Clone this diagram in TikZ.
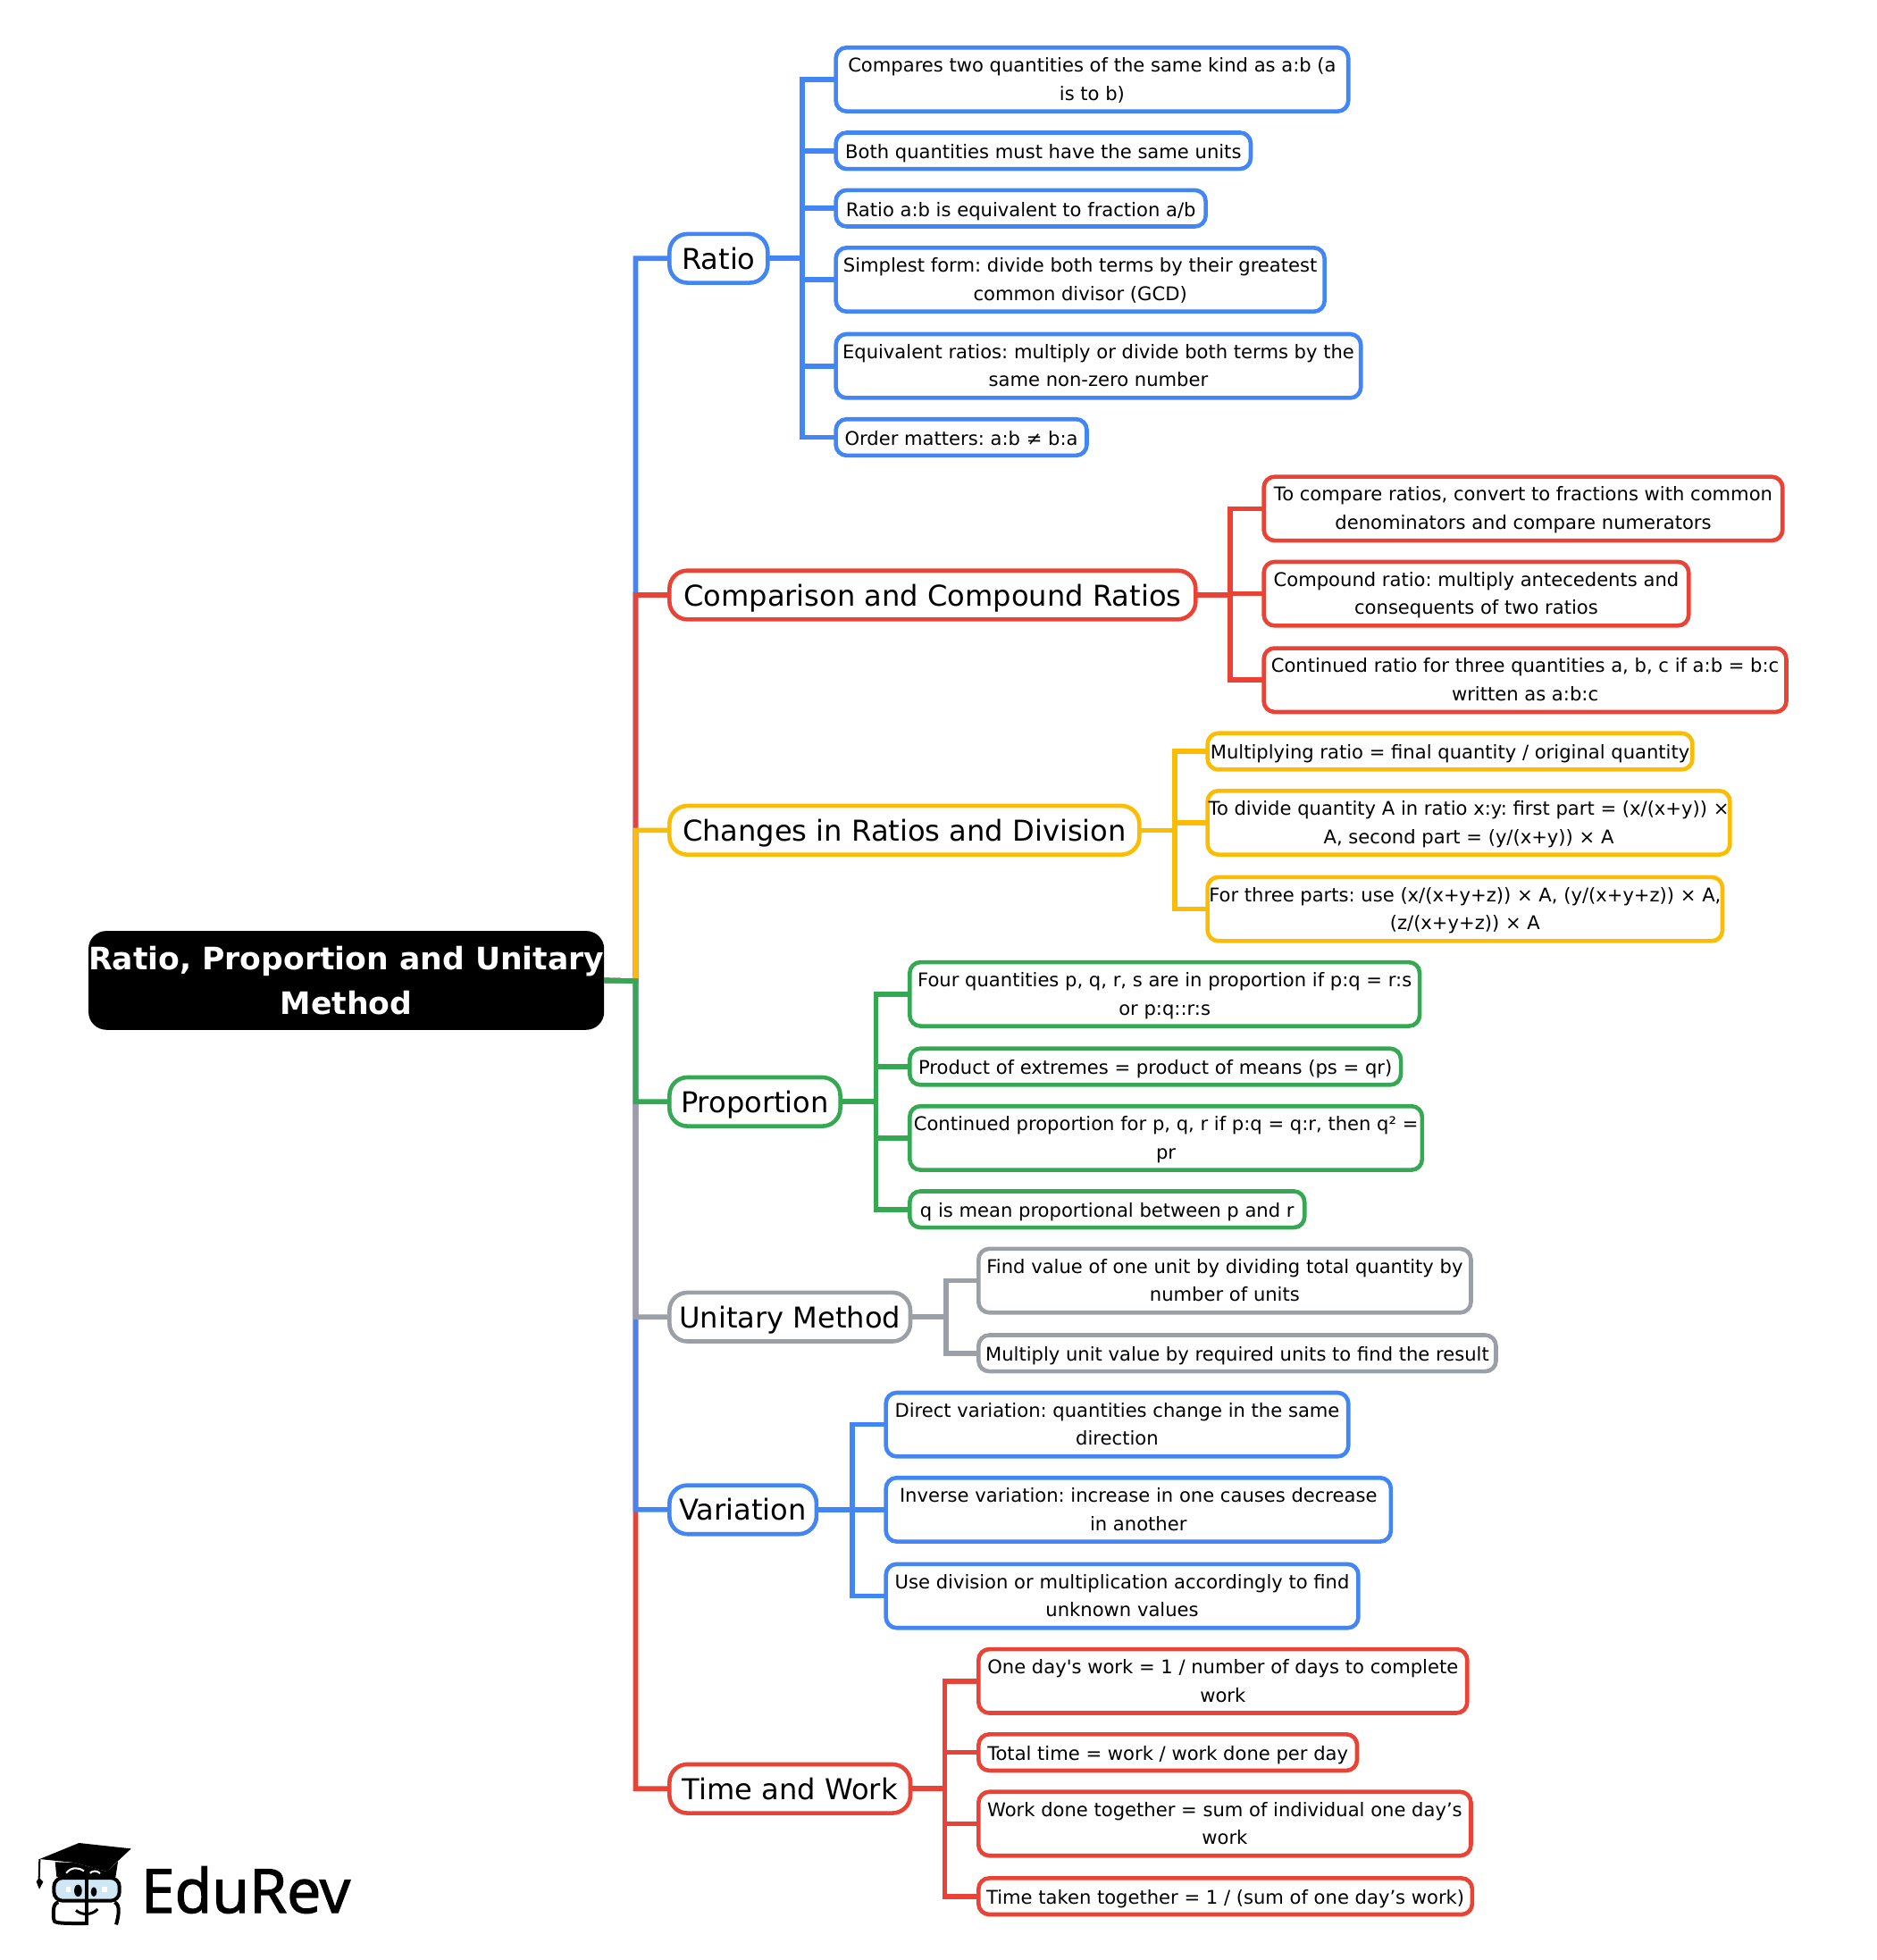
\documentclass[tikz,border=0pt]{standalone}
\usepackage{fontspec}
\setmainfont[Ligatures=TeXOff]{DejaVu Sans}
\newfontfamily\logofont[FakeBold=2]{Open Sans}
\usetikzlibrary{calc}
\definecolor{cblue}{HTML}{4285F4}
\definecolor{cred}{HTML}{EA4335}
\definecolor{cyel}{HTML}{FBBC04}
\definecolor{cgrn}{HTML}{34A853}
\definecolor{cgry}{HTML}{9AA0A6}
\definecolor{glass}{HTML}{CFE6F5}
\frenchspacing
\newcommand{\bx}[7]{%
 \pgfmathsetmacro{\cx}{(#3+#5)/2-0.75}\pgfmathsetmacro{\cy}{-(#4+#6)/2+0.5}%
 \pgfmathsetmacro{\bw}{(#5-#3-1.5)*0.7}\pgfmathsetmacro{\bh}{(#6-#4-1)*0.7}%
 \node[#1,minimum width=\bw pt,minimum height=\bh pt] (#2) at (\cx,\cy) {#7};}
\tikzset{
 leafbase/.style={draw=#1,line width=2.3pt,fill=white,rounded corners=6pt,inner sep=0pt,outer sep=0pt,align=center,font=\fontsize{10.54}{15.8}\selectfont},
 leaf/.style={leafbase=#1,text height=25.2pt,text depth=2pt},
 leafone/.style={leafbase=#1,text height=10.8pt,text depth=2pt},
 topic/.style={draw=#1,line width=2.3pt,fill=white,rounded corners=10pt,inner sep=0pt,outer sep=0pt,align=center,text height=14pt,text depth=2pt,font=\fontsize{16.05}{18}\selectfont},
 rootbox/.style={fill=black,text=white,rounded corners=10pt,inner sep=0pt,outer sep=0pt,align=center,font=\fontsize{17.3}{25}\selectfont\bfseries},
 conn/.style={draw=#1,line width=2.8pt}
}
\begin{document}
\begin{tikzpicture}[x=0.7pt,y=0.7pt]
\useasboundingbox (0,0) rectangle (1500,-1566.4);
\coordinate (tr) at (508,-784);
\coordinate (j1) at (641,-206.5);
\coordinate (j2) at (983,-475.5);
\coordinate (j3) at (939,-663.5);
\coordinate (j4) at (700,-880.5);
\coordinate (j5) at (756,-1052.5);
\coordinate (j6) at (681,-1206.5);
\coordinate (j7) at (755,-1429.5);
\bx{rootbox}{root}{72}{744}{483}{824}{Ratio, Proportion and Unitary\\Method}
\bx{topic=cblue}{t1}{535}{187}{615}{227}{Ratio}
\bx{topic=cred}{t2}{535}{456}{957}{496}{Comparison and Compound Ratios}
\bx{topic=cyel}{t3}{535}{644}{912}{684}{Changes in Ratios and Division}
\bx{topic=cgrn}{t4}{535}{861}{673}{901}{Proportion}
\bx{topic=cgry}{t5}{535}{1033}{729}{1073}{Unitary Method}
\bx{topic=cblue}{t6}{535}{1187}{654}{1227}{Variation}
\bx{topic=cred}{t7}{535}{1410}{729}{1450}{Time and Work}
\bx{leaf=cblue}{a1}{668}{38}{1079}{90}{Compares two quantities of the same kind as a:b (a\\is to b)}
\bx{leafone=cblue}{a2}{668}{106}{1001}{136}{Both quantities must have the same units}
\bx{leafone=cblue}{a3}{668}{152}{965}{182}{Ratio a:b is equivalent to fraction a/b}
\bx{leaf=cblue}{a4}{668}{198}{1060}{250}{Simplest form: divide both terms by their greatest\\common divisor (GCD)}
\bx{leaf=cblue}{a5}{668}{267}{1089}{319}{Equivalent ratios: multiply or divide both terms by the\\same non-zero number}
\bx{leafone=cblue}{a6}{668}{335}{870}{365}{Order matters: a:b ≠ b:a}
\bx{leaf=cred}{b1}{1010}{381}{1426}{433}{To compare ratios, convert to fractions with common\\denominators and compare numerators}
\bx{leaf=cred}{b2}{1010}{449}{1351}{501}{Compound ratio: multiply antecedents and\\consequents of two ratios}
\bx{leaf=cred}{b3}{1010}{518}{1429}{570}{Continued ratio for three quantities a, b, c if a:b = b:c\\written as a:b:c}
\bx{leafone=cyel}{c1}{965}{586}{1354}{616}{Multiplying ratio = final quantity / original quantity}
\bx{leaf=cyel}{c2}{965}{632}{1384}{684}{To divide quantity A in ratio x:y: first part = (x/(x+y)) ×\\A, second part = (y/(x+y)) × A}
\bx{leaf=cyel}{c3}{965}{701}{1378}{753}{For three parts: use (x/(x+y+z)) × A, (y/(x+y+z)) × A,\\(z/(x+y+z)) × A}
\bx{leaf=cgrn}{d1}{727}{769}{1136}{821}{Four quantities p, q, r, s are in proportion if p:q = r:s\\or p:q::r:s}
\bx{leafone=cgrn}{d2}{727}{838}{1121}{868}{Product of extremes = product of means (ps = qr)}
\bx{leaf=cgrn}{d3}{727}{884}{1138}{936}{Continued proportion for p, q, r if p:q = q:r, then q² =\\pr}
\bx{leafone=cgrn}{d4}{727}{952}{1044}{982}{q is mean proportional between p and r}
\bx{leaf=cgry}{e1}{782}{998}{1177}{1050}{Find value of one unit by dividing total quantity by\\number of units}
\bx{leafone=cgry}{e2}{782}{1067}{1197}{1097}{Multiply unit value by required units to find the result}
\bx{leaf=cblue}{f1}{708}{1113}{1079}{1165}{Direct variation: quantities change in the same\\direction}
\bx{leaf=cblue}{f2}{708}{1181}{1113}{1233}{Inverse variation: increase in one causes decrease\\in another}
\bx{leaf=cblue}{f3}{708}{1250}{1087}{1302}{Use division or multiplication accordingly to find\\unknown values}
\bx{leaf=cred}{g1}{782}{1318}{1174}{1370}{One day's work = 1 / number of days to complete\\work}
\bx{leafone=cred}{g2}{782}{1386}{1086}{1416}{Total time = work / work done per day}
\bx{leaf=cred}{g3}{782}{1432}{1177}{1484}{Work done together = sum of individual one day’s\\work}
\bx{leafone=cred}{g4}{782}{1501}{1178}{1531}{Time taken together = 1 / (sum of one day’s work)}
% connectors
\foreach \l/\c in {a1/cblue,a2/cblue,a3/cblue,a4/cblue,a5/cblue,a6/cblue}{\draw[conn=\c] (t1.east) -- (j1) |- (\l.west);}
\foreach \l/\c in {b1/cred,b2/cred,b3/cred}{\draw[conn=\c] (t2.east) -- (j2) |- (\l.west);}
\foreach \l/\c in {c1/cyel,c2/cyel,c3/cyel}{\draw[conn=\c] (t3.east) -- (j3) |- (\l.west);}
\foreach \l/\c in {d1/cgrn,d2/cgrn,d3/cgrn,d4/cgrn}{\draw[conn=\c] (t4.east) -- (j4) |- (\l.west);}
\foreach \l/\c in {e1/cgry,e2/cgry}{\draw[conn=\c] (t5.east) -- (j5) |- (\l.west);}
\foreach \l/\c in {f1/cblue,f2/cblue,f3/cblue}{\draw[conn=\c] (t6.east) -- (j6) |- (\l.west);}
\foreach \l/\c in {g1/cred,g2/cred,g3/cred,g4/cred}{\draw[conn=\c] (t7.east) -- (j7) |- (\l.west);}
\draw[conn=cblue] (root.east) -- (tr) |- (t1.west);
\draw[conn=cred] (root.east) -- (tr) |- (t2.west);
\draw[conn=cyel] (root.east) -- (tr) |- (t3.west);
\draw[conn=cred] (root.east) -- (tr) |- (t7.west);
\draw[conn=cblue] (root.east) -- (tr) |- (t6.west);
\draw[conn=cgry] (root.east) -- (tr) |- (t5.west);
\draw[conn=cgrn] (root.east) -- (tr) |- (t4.west);
% logo
\begin{scope}[shift={(0pt,-975pt)},x=0.16667pt,y=-0.16667pt]
\fill (133,390) -- (265,336) -- (440,355) -- (358,432) -- (250,402) -- cycle;
\fill (185,400) -- (250,402) -- (358,432) -- (396,398) -- (388,450) -- (190,450) -- cycle;
\draw[white,line width=1pt] (222,437) .. controls (240,415) and (265,418) .. (282,430);
\draw[white,line width=1pt] (302,437) .. controls (312,428) and (325,428) .. (336,438);
\draw[line width=1pt] (133,390) -- (131,455);
\fill (131,452) -- (122,466) -- (132,491) -- (145,466) -- cycle;
\draw[fill=glass,line width=2pt,rounded corners=5pt] (181,453) rectangle (401,530);
\draw[line width=2pt] (292,450) -- (292,612);
\fill (262,496) ellipse (13 and 20);
\fill (315,500) ellipse (10 and 16);
\fill[white] (221,484) rectangle (238,500);
\fill[white] (343,484) rectangle (360,500);
\draw[line width=2pt] (196,535) .. controls (175,540) and (180,570) .. (180,590) .. controls (180,605) and (190,606) .. (285,606);
\draw[line width=2pt] (385,535) .. controls (405,545) and (398,580) .. (390,610);
\draw[line width=1.5pt] (255,562) .. controls (275,580) and (310,578) .. (328,558);
\node[anchor=base west,inner sep=0pt,font=\logofont\fontsize{34}{34}\selectfont] (logo) at (472,570) {EduRev};
\end{scope}
\end{tikzpicture}
\end{document}
